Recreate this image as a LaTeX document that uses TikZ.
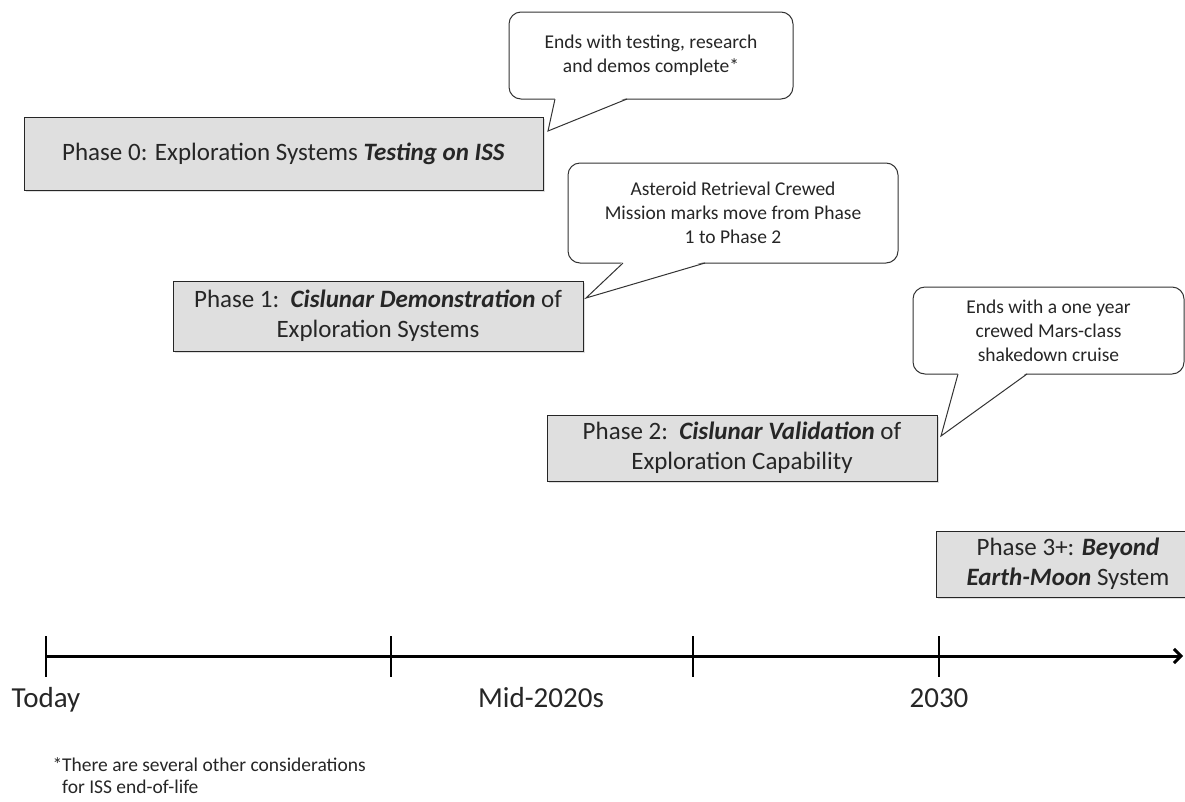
\documentclass[tikz,border=0pt]{standalone}
\usepackage{fontspec}
\setmainfont{Carlito}
\usetikzlibrary{calc}
\usetikzlibrary{shadows}
\usetikzlibrary{arrows.meta}

\begin{document}
\begin{tikzpicture}[x=1pt,y=-1pt,
  phasebox/.style={draw=black!85, fill=gray!25, line width=1pt, align=center, inner sep=0pt, outer sep=0pt, text=black!85,
    font=\fontsize{25}{30}\selectfont, drop shadow={shadow xshift=2pt, shadow yshift=-2pt, opacity=0.25}},
  callout/.style={draw=black!80, fill=white, rounded corners=12pt, line width=1pt, align=center, inner sep=0pt, outer sep=0pt,
    text=black!85, font=\fontsize{19.5}{24}\selectfont, anchor=north west},
  axislabel/.style={text=black!85, anchor=base, font=\fontsize{29}{32}\selectfont}]
\useasboundingbox (0,0) rectangle (1185,801);

% phase boxes
\node [phasebox, anchor=north west, minimum width=519pt, minimum height=73pt] (p0) at (24,117)
  {Phase 0: Exploration Systems \textbf{\textit{Testing on ISS}}};
\node [phasebox, anchor=north west, minimum width=410pt, minimum height=70pt] (p1) at (173,281)
  {Phase 1:\ \ \textbf{\textit{Cislunar Demonstration}} of\\Exploration Systems};
\node [phasebox, anchor=north west, minimum width=390pt, minimum height=66pt] (p2) at (547,415)
  {Phase 2:\ \ \textbf{\textit{Cislunar Validation}} of\\Exploration Capability};
\node [phasebox, anchor=north west, minimum width=264pt, minimum height=66pt] (p3) at (936,531)
  {Phase 3+: \textbf{\textit{Beyond}}\\\textbf{\textit{Earth-Moon}} System};

% callouts
\node [callout, minimum width=284pt, minimum height=87pt] (c0) at (509,12)
  {Ends with testing, research\\and demos complete*};
\node [callout, minimum width=330pt, minimum height=100pt] (c1) at (568,163)
  {Asteroid Retrieval Crewed\\Mission marks move from Phase\\1 to Phase 2};
\node [callout, minimum width=271pt, minimum height=87pt] (c2) at (913,287)
  {Ends with a one year\\crewed Mars-class\\shakedown cruise};

\coordinate (t0) at ($(p0.north east)+(5,14)$);
\coordinate (t1) at ($(p1.north east)+(3,17)$);
\coordinate (t2) at ($(p2.north east)+(4,21)$);

\fill [white] ($(c0.south west)+(46,-1.5)$) -- (t0) -- ($(c0.south west)+(118,-1.5)$) -- cycle;
\draw [black!80, line width=1pt] ($(c0.south west)+(46,0)$) -- (t0) -- ($(c0.south west)+(118,0)$);
\fill [white] ($(c1.south west)+(55,-1.5)$) -- (t1) -- ($(c1.south west)+(137,-1.5)$) -- cycle;
\draw [black!80, line width=1pt] ($(c1.south west)+(55,0)$) -- (t1) -- ($(c1.south west)+(137,0)$);
\fill [white] ($(c2.south west)+(45,-1.5)$) -- (t2) -- ($(c2.south west)+(114,-1.5)$) -- cycle;
\draw [black!80, line width=1pt] ($(c2.south west)+(45,0)$) -- (t2) -- ($(c2.south west)+(114,0)$);

% time line
\coordinate (a0) at (46,656);
\coordinate (a1) at (1183,656);
\draw [line width=3pt] [-{Straight Barb[length=7pt,width=14pt]}] (a0) -- (a1);
\foreach \t in {46, 391, 693, 939}
  \draw [line width=2.2pt] (\t,636) -- (\t,677);
\node [axislabel] (today) at (46,707) {Today};
\node [axislabel] (mid) at (541,707) {Mid-2020s};
\node [axislabel] (y2030) at (939,707) {2030};

\node [anchor=north west, align=left, text=black!85, font=\fontsize{19.5}{22}\selectfont] (note) at (49,754)
  {*There are several other considerations\\\phantom{*}for ISS end-of-life};
\end{tikzpicture}
\end{document}
